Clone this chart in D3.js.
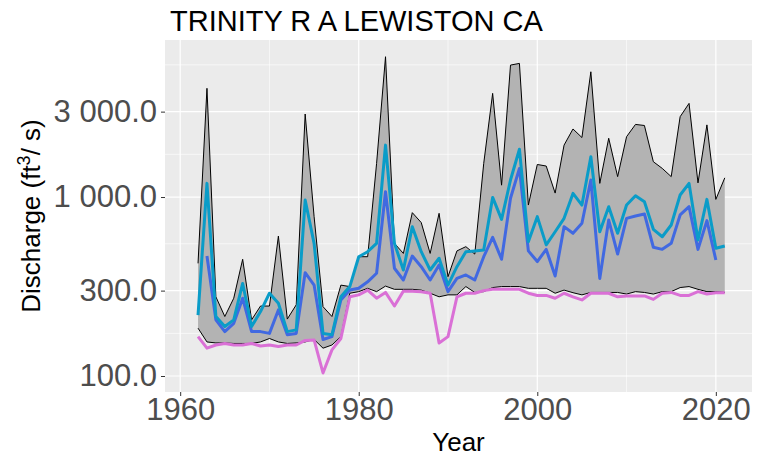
<!DOCTYPE html>
<html><head><meta charset="utf-8">
<script src="https://cdn.jsdelivr.net/npm/d3@7"></script>
<style>body{margin:0;background:#fff}text{font-family:"Liberation Sans",Arial,sans-serif}</style>
</head><body><svg width="757" height="464"></svg>
<script>
const years = d3.range(1962, 2022);
const upper = [426,4050,277,215,272,449,206,246,246,605,208,250,2910,777,244,215,322,316,464,464,1540,6080,551,484,818,720,484,811,359,
  500,528,480,1542,3795,1165,5460,5580,902,1520,1490,1052,1950,2400,2150,5010,1192,2130,1300,2173,2545,2510,1575,1445,1300,2811,3336,1200,2530,970,1280];
const lower = [185,155,153,153,152,152,152,155,162,155,152,153,155,160,143,149,166,290,296,309,296,318,305,305,305,302,290,277,284,
  284,316,293,296,312,316,316,316,309,309,309,290,302,292,284,293,293,293,293,287,296,293,287,296,296,312,316,305,296,296,293];
const meanQ = [219,1192,215,189,206,329,189,229,290,255,177,181,962,551,173,170,277,316,464,495,551,1950,551,391,683,495,391,455,322,
  408,495,500,506,995,750,1245,1850,563,777,540,640,760,1048,902,1680,640,883,627,902,1017,942,660,600,698,1026,1192,575,970,517,533];
const medianQ = [null,468,206,177,197,272,177,177,173,234,170,173,378,322,160,166,266,302,309,336,375,1070,400,344,468,408,344,417,296,
  351,367,344,464,595,449,985,1445,500,436,510,362,683,627,713,1245,351,744,480,760,784,804,524,510,551,794,883,510,738,445,null];
const minQ = [166,143,149,152,149,149,152,147,149,146,149,149,158,159,104,140,162,277,284,302,272,293,246,298,298,296,290,153,166,
  277,290,290,300,305,305,305,305,290,282,282,272,290,277,266,290,290,290,277,280,280,280,268,290,293,282,282,296,287,292,292];
const yBreaks = [100, 300, 1000, 3000];
const yMinor = [173, 548, 1732, 5477];
const xBreaks = [1960, 1980, 2000, 2020];
const xMinor = [1970, 1990, 2010];

const svg = d3.select("svg");
const L = 165, R = 752, T = 40, B = 392;
const x = d3.scaleLinear().domain([1958.3, 2024.05]).range([L, R]);
const y = d3.scaleLog().domain([81.4, 7540]).range([B, T]);

svg.append("rect").attr("x", L).attr("y", T).attr("width", R - L).attr("height", B - T).attr("fill", "#ebebeb");
const g = svg.append("g");
g.selectAll(".ymn").data(yMinor).join("line").attr("x1", L).attr("x2", R)
  .attr("y1", d => y(d)).attr("y2", d => y(d)).attr("stroke", "#fff").attr("stroke-width", 0.6);
g.selectAll(".xmn").data(xMinor).join("line").attr("y1", T).attr("y2", B)
  .attr("x1", d => x(d)).attr("x2", d => x(d)).attr("stroke", "#fff").attr("stroke-width", 0.6);
g.selectAll(".ymj").data(yBreaks).join("line").attr("x1", L).attr("x2", R)
  .attr("y1", d => y(d)).attr("y2", d => y(d)).attr("stroke", "#fff").attr("stroke-width", 1.2);
g.selectAll(".xmj").data(xBreaks).join("line").attr("y1", T).attr("y2", B)
  .attr("x1", d => x(d)).attr("x2", d => x(d)).attr("stroke", "#fff").attr("stroke-width", 1.2);

const idx = years.map((_, i) => i);
svg.append("path").datum(idx)
  .attr("d", d3.area().x(i => x(years[i])).y0(i => y(lower[i])).y1(i => y(upper[i])))
  .attr("fill", "#b3b3b3");
const line = arr => d3.line().defined(i => arr[i] != null).x(i => x(years[i])).y(i => y(arr[i]));
svg.append("path").datum(idx).attr("d", line(upper)).attr("fill", "none").attr("stroke", "#000").attr("stroke-width", 1);
svg.append("path").datum(idx).attr("d", line(lower)).attr("fill", "none").attr("stroke", "#000").attr("stroke-width", 1);
[[minQ, "#da70d6"], [medianQ, "#4169e1"], [meanQ, "#0a9cc8"]].forEach(([arr, c]) => {
  svg.append("path").datum(idx).attr("d", line(arr)).attr("fill", "none")
    .attr("stroke", c).attr("stroke-width", 3).attr("stroke-linejoin", "round");
});

const yAxis = svg.append("g").attr("transform", `translate(${L},0)`)
  .call(d3.axisLeft(y).tickValues(yBreaks).tickSize(4).tickPadding(4)
    .tickFormat(d => d3.format(",.1f")(d).replace(",", " ")));
const xAxis = svg.append("g").attr("transform", `translate(0,${B})`)
  .call(d3.axisBottom(x).tickValues(xBreaks).tickSize(4).tickPadding(2).tickFormat(d3.format("d")));
[yAxis, xAxis].forEach(a => {
  a.select(".domain").remove();
  a.selectAll("line").attr("stroke", "#333");
  a.selectAll("text").attr("fill", "#4d4d4d").style("font-size", "31px");
});

svg.append("text").attr("x", 170).attr("y", 31).style("font-size", "29px").attr("fill", "#000")
  .text("TRINITY R A LEWISTON CA");
svg.append("text").attr("x", (L + R) / 2).attr("y", 451).attr("text-anchor", "middle")
  .style("font-size", "26px").text("Year");
const yt = svg.append("text").attr("transform", `translate(40,${(T + B) / 2}) rotate(-90)`)
  .attr("text-anchor", "middle").style("font-size", "26px");
yt.append("tspan").text("Discharge (ft");
yt.append("tspan").attr("dy", -10).style("font-size", "18px").text("3");
yt.append("tspan").attr("dy", 10).text("/ s)");
</script></body></html>
